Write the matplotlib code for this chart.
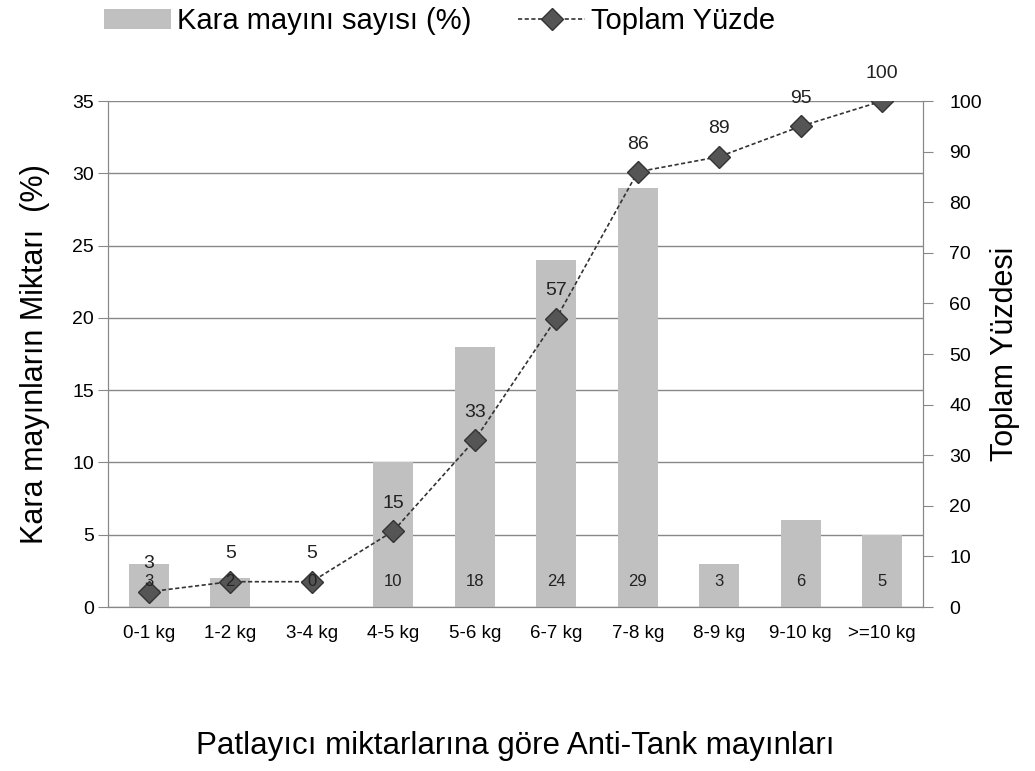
import matplotlib
matplotlib.use('Agg')
import matplotlib.pyplot as plt
import numpy as np

plt.rcParams['font.family'] = ['Liberation Sans', 'DejaVu Sans']

categories = ['0-1 kg', '1-2 kg', '3-4 kg', '4-5 kg', '5-6 kg', '6-7 kg',
              '7-8 kg', '8-9 kg', '9-10 kg', '>=10 kg']
mine_pct = [3, 2, 0, 10, 18, 24, 29, 3, 6, 5]
cumulative = [3, 5, 5, 15, 33, 57, 86, 89, 95, 100]

x = np.arange(len(categories))

fig = plt.figure(figsize=(10.35, 7.71), dpi=100)
ax = fig.add_axes([0.1043, 0.2127, 0.7875, 0.6563])
ax2 = ax.twinx()

bars = ax.bar(x, mine_pct, width=0.49, color='#c0c0c0', zorder=2,
              label='Kara mayını sayısı (%)')
ax.set_ylim(0, 35)
ax.set_xlim(-0.5, len(categories) - 0.5)
ax.set_yticks(range(0, 36, 5))
ax.yaxis.grid(True, color='#888888', linewidth=1)
ax.set_axisbelow(True)

line, = ax2.plot(x, cumulative, linestyle=(0, (2.5, 1.5)), color='#333333', linewidth=1.2,
                 marker='D', markersize=11, markerfacecolor='#555555',
                 markeredgecolor='#333333', label='Toplam Yüzde', zorder=4)
ax2.set_ylim(0, 100)
ax2.set_yticks(range(0, 101, 10))
for xi, v in zip(x, cumulative):
    ax2.text(xi, v + 5.5, str(v), ha='center', va='center', fontsize=14, color='#222222')

# bar values drawn on top of the markers, like the original
for xi, v in zip(x, mine_pct):
    ax2.text(xi, 1.75, str(v), ha='center', va='center', fontsize=12, color='#222222',
             transform=ax.transData, zorder=6)

ax.set_xticks(x)
ax.set_xticklabels(categories, fontsize=13.5)
ax.tick_params(axis='x', length=0, pad=13)
ax.tick_params(axis='y', labelsize=14, length=7, color='#888888', pad=3)
ax2.tick_params(axis='y', labelsize=14, length=7, color='#888888', pad=12)

for a in (ax, ax2):
    a.spines['top'].set_visible(False)
    for s in ['left', 'right', 'bottom']:
        a.spines[s].set_color('#888888')

ax.set_ylabel('Kara mayınların Miktarı  (%)', fontsize=22, labelpad=16)
ax2.set_ylabel('Toplam Yüzdesi', fontsize=22, labelpad=6)
ax.set_xlabel('Patlayıcı miktarlarına göre Anti-Tank mayınları', fontsize=22.5, labelpad=64)

fig.legend(handles=[bars, line], loc='upper center', bbox_to_anchor=(0.425, 1.025),
           ncol=2, frameon=False, fontsize=21, handlelength=2.3, columnspacing=1.6,
           handletextpad=0.2)

fig.savefig('out.png', dpi=100)
